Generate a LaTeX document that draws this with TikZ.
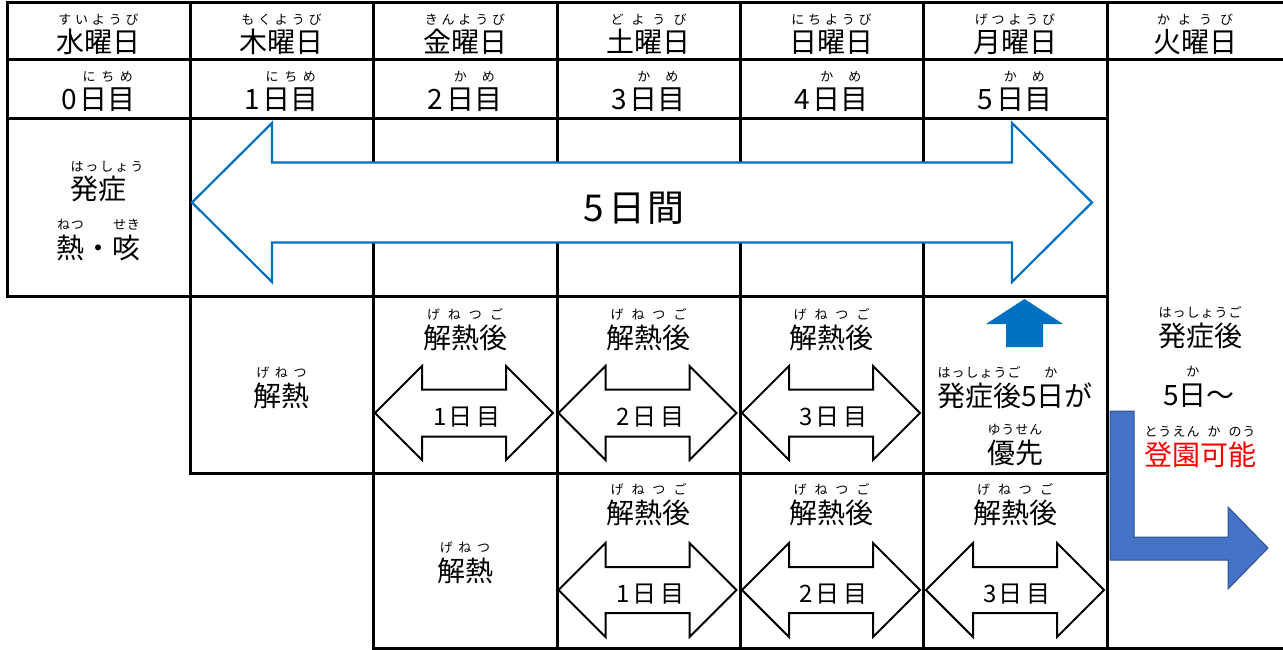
\documentclass[tikz,border=0pt]{standalone}
\usepackage{fontspec}
\newfontfamily\jp{Noto Sans CJK JP}
\definecolor{arrowblue}{HTML}{0070C0}
\definecolor{bentblue}{HTML}{4472C4}
\definecolor{bentedge}{HTML}{2F528F}
\definecolor{okred}{HTML}{FF0000}
\newlength\rubyraise \setlength\rubyraise{28.5pt}
\def\rspread#1{\ifx\relax#1\else\hfil#1\hfil\expandafter\rspread\fi}
\newcommand\rubyfont{\fontsize{13}{13}\selectfont}
\newcommand\rb[2]{\leavevmode\setbox0\hbox{#1}\setbox2\hbox{\rubyfont #2}%
  \ifdim\wd2<\wd0 \setbox2\hbox to\wd0{\rubyfont\rspread#2\relax}\fi
  \rlap{\raise\rubyraise\hbox to\wd0{\hss\box2\hss}}\box0\relax}
\newcommand\red[1]{\textcolor{okred}{#1}}
% double arrow: style, cx, cy, half length, head length, head half height, shaft half height
\newcommand\darr[7]{\draw[#1,shift={(#2,#3)}] (-#4,0) -- (-#4+#5,-#6) -- (-#4+#5,-#7) -- (#4-#5,-#7) -- (#4-#5,-#6) -- (#4,0) -- (#4-#5,#6) -- (#4-#5,#7) -- (-#4+#5,#7) -- (-#4+#5,#6) -- cycle;}
\begin{document}
\begin{tikzpicture}[x=1pt,y=-1pt,
  gridline/.style={line width=3pt, line cap=rect, black},
  bigarrow/.style={draw=arrowblue, fill=white, line width=2.2pt, line join=miter},
  smallarrow/.style={draw=black, fill=white, line width=2pt, line join=miter},
  txt/.style={font=\jp\fontsize{28}{28}\selectfont, anchor=base, inner sep=0pt},
  bigtxt/.style={font=\jp\fontsize{37}{37}\selectfont, anchor=base, inner sep=0pt},
  arrtxt/.style={font=\jp\fontsize{24}{24}\selectfont, anchor=base, inner sep=0pt}]
\useasboundingbox (0,0) rectangle (1283,650);
\fill[white] (0,0) rectangle (1283,650);
% grid
\draw[gridline] (7,3) -- (1283,3);
\draw[gridline] (7,60) -- (1283,60);
\draw[gridline] (7,119) -- (1107,119);
\draw[gridline] (7,296) -- (1107,296);
\draw[gridline] (190,473) -- (1107,473);
\draw[gridline] (373,648) -- (1283,648);
\draw[gridline] (7,3) -- (7,296);
\draw[gridline] (190,3) -- (190,473);
\foreach \x in {373,557,740,923,1107} \draw[gridline] (\x,3) -- (\x,648);
% header row
\node[txt] (h1) at (98.5,53) {\rb{水曜日}{すいようび}};
\node[txt] (h2) at (281.5,53) {\rb{木曜日}{もくようび}};
\node[txt] (h3) at (465,53) {\rb{金曜日}{きんようび}};
\node[txt] (h4) at (648.5,53) {\rb{土曜日}{どようび}};
\node[txt] (h5) at (831.5,53) {\rb{日曜日}{にちようび}};
\node[txt] (h6) at (1015,53) {\rb{月曜日}{げつようび}};
\node[txt] (h7) at (1195,53) {\rb{火曜日}{かようび}};
% day count row
\node[txt] (d0) at (98.5,110) {0\hspace{3pt}\rb{日目}{にちめ}};
\node[txt] (d1) at (281.5,110) {1\hspace{3pt}\rb{日目}{にちめ}};
\node[txt] (d2) at (465,110) {2\hspace{3pt}\rb{日}{か}\rb{目}{め}};
\node[txt] (d3) at (648.5,110) {3\hspace{3pt}\rb{日}{か}\rb{目}{め}};
\node[txt] (d4) at (831.5,110) {4\hspace{3pt}\rb{日}{か}\rb{目}{め}};
\node[txt] (d5) at (1015,110) {5\hspace{3pt}\rb{日}{か}\rb{目}{め}};
% onset cell
\node[txt] (onset) at (98.5,200) {\rlap{\raise\rubyraise\hbox{\rubyfont は\hspace{2pt}っ\hspace{2pt}し\hspace{2pt}ょ\hspace{2pt}う}}発症};
\node[txt] (fever) at (98.5,258) {\rb{熱}{ねつ}・\rb{咳}{せき}};
% big arrow
\darr{bigarrow}{642}{202.5}{450}{80}{79.5}{40}
\node[bigtxt] (span) at (634,221) {5\hspace{4pt}日\hspace{2pt}間};
% row 4
\node[txt] (g1) at (281.5,406) {\rb{解熱}{げねつ}};
\node[txt] (a1) at (465,348) {\rb{解熱後}{げねつご}};
\node[txt] (a2) at (648.5,348) {\rb{解熱後}{げねつご}};
\node[txt] (a3) at (831.5,348) {\rb{解熱後}{げねつご}};
\darr{smallarrow}{464}{413}{89}{47}{47}{23.5}
\darr{smallarrow}{647.5}{413}{89}{47}{47}{23.5}
\darr{smallarrow}{831}{413}{89}{47}{47}{23.5}
\node[arrtxt] (l1) at (467,425) {1\hspace{2pt}日\hspace{4pt}目};
\node[arrtxt] (l2) at (650.5,425) {2\hspace{2pt}日\hspace{4pt}目};
\node[arrtxt] (l3) at (833.5,425) {3\hspace{2pt}日\hspace{4pt}目};
\fill[arrowblue] (986,324) -- (1024.5,299) -- (1063,324) -- (1043,324) -- (1043,347) -- (1006,347) -- (1006,324) -- cycle;
\node[txt] (p1) at (1015,406) {\rb{発症後}{はっしょうご}5\rb{日}{か}が};
\node[txt] (p2) at (1015,463) {\rb{優先}{ゆうせん}};
% right column
\node[txt] (r1) at (1200,346) {\rb{発症後}{はっしょうご}};
\node[txt] (r2) at (1199,405) {5\rb{日}{か}〜};
\node[txt] (r3) at (1200,465) {\rb{\red{登}}{とう}\rb{\red{園}}{えん}\rb{\red{可}}{か}\rb{\red{能}}{のう}};
\draw[fill=bentblue, draw=bentedge, line width=1pt] (1110,411) -- (1134,411) -- (1134,537) -- (1228,537) -- (1228,507) -- (1268,548) -- (1228,589) -- (1228,560) -- (1110,560) -- cycle;
% row 5
\node[txt] (g2) at (465,581) {\rb{解熱}{げねつ}};
\node[txt] (b1) at (648.5,523) {\rb{解熱後}{げねつご}};
\node[txt] (b2) at (831.5,523) {\rb{解熱後}{げねつご}};
\node[txt] (b3) at (1015,523) {\rb{解熱後}{げねつご}};
\darr{smallarrow}{647.5}{590}{89}{47}{47}{23}
\darr{smallarrow}{831}{590}{89}{47}{47}{23}
\darr{smallarrow}{1015}{590}{89}{47}{47}{23}
\node[arrtxt] (m1) at (650.5,602) {1\hspace{2pt}日\hspace{4pt}目};
\node[arrtxt] (m2) at (833.5,602) {2\hspace{2pt}日\hspace{4pt}目};
\node[arrtxt] (m3) at (1017,602) {3\hspace{2pt}日\hspace{4pt}目};
\end{tikzpicture}
\end{document}
